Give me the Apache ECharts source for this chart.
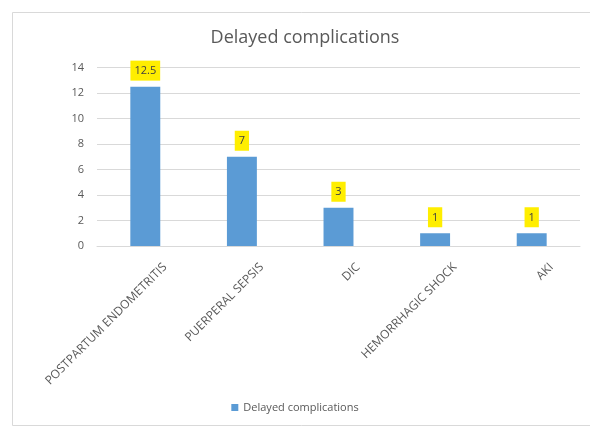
<!DOCTYPE html>
<html>
<head>
<meta charset="utf-8">
<script src="https://cdn.jsdelivr.net/npm/echarts@6/dist/echarts.min.js"></script>
<style>
  html, body { margin: 0; padding: 0; background: #fff; }
  #chart { width: 590px; height: 428px; }
</style>
</head>
<body>
<div id="chart"></div>
<script>
// Categories and counts of delayed complications
const categories = ['POSTPARTUM ENDOMETRITIS', 'PUERPERAL SEPSIS', 'DIC', 'HEMORRHAGIC SHOCK', 'AKI'];
const counts = [12.5, 7, 3, 1, 1];
const yTicks = [0, 2, 4, 6, 8, 10, 12, 14];
const seriesName = 'Delayed complications';

const FONT = 'Open Sans, Liberation Sans, sans-serif';
const chart = echarts.init(document.getElementById('chart'), null, { renderer: 'canvas' });

chart.setOption({
  backgroundColor: '#ffffff',
  animation: false,
  graphic: [{
    type: 'rect',
    left: 10, top: 10,
    shape: { width: 600, height: 413 },
    style: { fill: 'none', stroke: '#d9d9d9', lineWidth: 1 },
    silent: true
  }],
  title: {
    text: seriesName,
    left: 300,
    textAlign: 'center',
    top: 24,
    textStyle: { color: '#595959', fontSize: 18, fontWeight: 'normal', fontFamily: FONT }
  },
  legend: {
    bottom: 10,
    left: 'center',
    itemWidth: 7,
    itemHeight: 7,
    icon: 'rect',
    textStyle: { color: '#595959', fontSize: 11, fontFamily: FONT },
    data: [seriesName]
  },
  grid: { left: 97, right: 10, top: 67.5, bottom: 182, containLabel: false },
  xAxis: {
    type: 'category',
    data: categories,
    axisLine: { show: true, lineStyle: { color: '#d9d9d9' } },
    axisTick: { show: false },
    axisLabel: {
      rotate: 45,
      interval: 0,
      margin: 39,
      // shift the rotated text along its baseline so its end sits right of the tick
      padding: [0, -28, 0, 0],
      color: '#595959',
      fontSize: 12,
      fontFamily: FONT
    }
  },
  yAxis: {
    type: 'value',
    min: yTicks[0],
    max: yTicks[yTicks.length - 1],
    interval: 2,
    axisLine: { show: false },
    axisTick: { show: false },
    splitLine: { lineStyle: { color: '#d9d9d9' } },
    axisLabel: {
      margin: 13,
      color: '#595959',
      fontSize: 11,
      fontFamily: FONT
    }
  },
  series: [{
    name: seriesName,
    type: 'bar',
    data: counts,
    barWidth: '31%',
    itemStyle: { color: '#5b9bd5' },
    label: {
      show: true,
      position: 'top',
      distance: 6,
      backgroundColor: '#ffee00',
      padding: [5, 4, 4, 4],
      color: '#404040',
      fontSize: 11,
      fontFamily: FONT
    }
  }]
});
</script>
</body>
</html>
